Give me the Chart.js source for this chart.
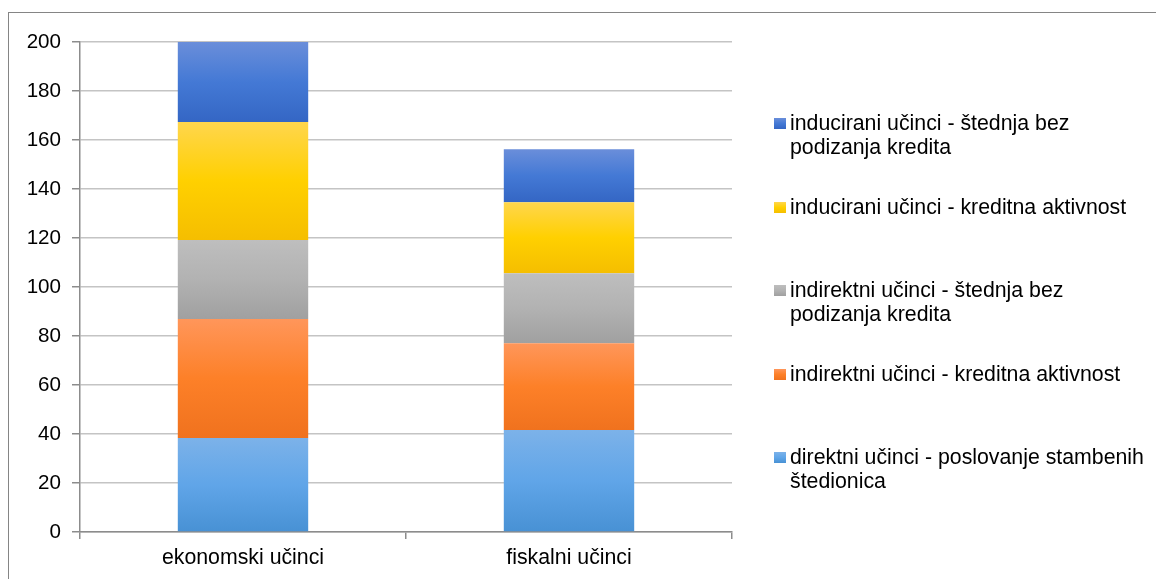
<!DOCTYPE html>
<html>
<head>
<meta charset="utf-8">
<script src="https://cdn.jsdelivr.net/npm/chart.js@4"></script>
<style>
  html, body { margin: 0; padding: 0; background: #fff; }
  body { width: 1156px; height: 579px; position: relative; overflow: hidden; font-family: "Liberation Sans", Arial, sans-serif; }
  #frame { position: absolute; left: 8px; top: 12px; width: 1200px; height: 640px; border-left: 1px solid #858585; border-top: 1px solid #858585; box-sizing: border-box; }
  #wrap { position: absolute; left: 0; top: 0; width: 1156px; height: 579px; }
  #legend { position: absolute; left: 0; top: 0; width: 1156px; height: 579px; pointer-events: none; }
  .item { position: absolute; left: 774px; font-size: 21.3px; line-height: 24px; color: #000; }
  .sw { position: absolute; left: 0; top: 7px; width: 12px; height: 11px; }
  .txt { position: absolute; left: 16px; top: 0; width: 380px; white-space: nowrap; }
</style>
</head>
<body>
<div id="frame"></div>
<div id="wrap"><canvas id="c" width="1156" height="579"></canvas></div>
<div id="legend"></div>
<script>
// ---- data ----
const categories = ['ekonomski učinci', 'fiskalni učinci'];
const seriesNames = [
  'direktni učinci - poslovanje stambenih štedionica',
  'indirektni učinci - kreditna aktivnost',
  'indirektni učinci - štednja bez podizanja kredita',
  'inducirani učinci - kreditna aktivnost',
  'inducirani učinci - štednja bez podizanja kredita'
];
const direktni = [38.4, 41.6];
const indirektniKredit = [48.5, 35.4];
const indirektniStednja = [32.3, 28.6];
const induciraniKredit = [48.1, 29.0];
const induciraniStednja = [32.7, 21.6];
const yTicks = [0, 20, 40, 60, 80, 100, 120, 140, 160, 180, 200];

// legend line breaks (as in the reference)
const legendLines = [
  ['direktni učinci - poslovanje stambenih', 'štedionica'],
  ['indirektni učinci - kreditna aktivnost'],
  ['indirektni učinci - štednja bez', 'podizanja kredita'],
  ['inducirani učinci - kreditna aktivnost'],
  ['inducirani učinci - štednja bez', 'podizanja kredita']
];

// ---- styles ----
const gradStops = [
  ['rgb(124,178,233)', 'rgb(96,165,232)', 'rgb(72,145,212)'],
  ['rgb(255,150,90)', 'rgb(253,128,40)', 'rgb(240,114,30)'],
  ['rgb(190,190,190)', 'rgb(178,178,178)', 'rgb(160,160,160)'],
  ['rgb(255,214,77)', 'rgb(255,208,0)', 'rgb(245,190,0)'],
  ['rgb(106,142,218)', 'rgb(68,121,213)', 'rgb(52,102,196)']
];
const seriesValues = [direktni, indirektniKredit, indirektniStednja, induciraniKredit, induciraniStednja];

function segGrad(ctx) {
  const stops = gradStops[ctx.datasetIndex];
  const chart = ctx.chart;
  const ys = chart.scales && chart.scales.y;
  if (!ys || ctx.type !== 'data') return stops[1];
  const i = ctx.dataIndex, d = ctx.datasetIndex;
  let base = 0;
  for (let k = 0; k < d; k++) base += chart.data.datasets[k].data[i];
  const top = ys.getPixelForValue(base + chart.data.datasets[d].data[i]);
  const bot = ys.getPixelForValue(base);
  if (!isFinite(top) || !isFinite(bot) || top === bot) return stops[1];
  const g = chart.ctx.createLinearGradient(0, top, 0, bot);
  g.addColorStop(0, stops[0]);
  g.addColorStop(0.5, stops[1]);
  g.addColorStop(1, stops[2]);
  return g;
}

const datasets = seriesValues.map((vals, k) => ({
  label: seriesNames[k],
  data: vals,
  backgroundColor: segGrad,
  borderWidth: 0,
  barPercentage: 0.4,
  categoryPercentage: 1.0
}));

const xFont = { family: '"Liberation Sans", Arial, sans-serif', size: 21.3 };
const yFont = { family: '"Liberation Sans", Arial, sans-serif', size: 20.6 };

new Chart(document.getElementById('c'), {
  type: 'bar',
  data: { labels: categories, datasets },
  options: {
    responsive: false,
    animation: false,
    devicePixelRatio: 1,
    layout: { padding: { left: 0, top: 42, right: 424, bottom: 0 } },
    plugins: { legend: { display: false }, tooltip: { enabled: false }, title: { display: false } },
    scales: {
      x: {
        stacked: true,
        offset: true,
        grid: {
          offset: true,
          drawOnChartArea: true,
          drawTicks: true,
          tickLength: 7,
          color: c => (c.index === categories.length ? '#bdbdbd' : 'rgba(0,0,0,0)'),
          tickColor: '#8c8c8c',
          lineWidth: 1.5
        },
        border: { display: true, color: '#8c8c8c', width: 1.5 },
        ticks: { color: '#000', font: xFont, padding: 6 },
        afterFit: s => { s.height = 47; }
      },
      y: {
        stacked: true,
        min: 0,
        max: 200,
        afterBuildTicks: s => { s.ticks = yTicks.map(v => ({ value: v })); },
        grid: { color: '#c4c4c4', lineWidth: 1.5, tickLength: 8, tickColor: '#8c8c8c' },
        border: { display: true, color: '#8c8c8c', width: 1.5 },
        ticks: { color: '#000', font: yFont, padding: 11 },
        afterFit: s => { s.width = 80; }
      }
    }
  }
});

// ---- HTML legend (reverse order, as in reference) ----
const legend = document.getElementById('legend');
const order = [4, 3, 2, 1, 0];
order.forEach((k, pos) => {
  const item = document.createElement('div');
  item.className = 'item';
  item.style.top = (111 + pos * 83.5) + 'px';
  const sw = document.createElement('div');
  sw.className = 'sw';
  const st = gradStops[k];
  sw.style.background = 'linear-gradient(' + st[0] + ',' + st[1] + ',' + st[2] + ')';
  const tx = document.createElement('div');
  tx.className = 'txt';
  tx.innerHTML = legendLines[k].join('<br>');
  item.appendChild(sw);
  item.appendChild(tx);
  legend.appendChild(item);
});
</script>
</body>
</html>
